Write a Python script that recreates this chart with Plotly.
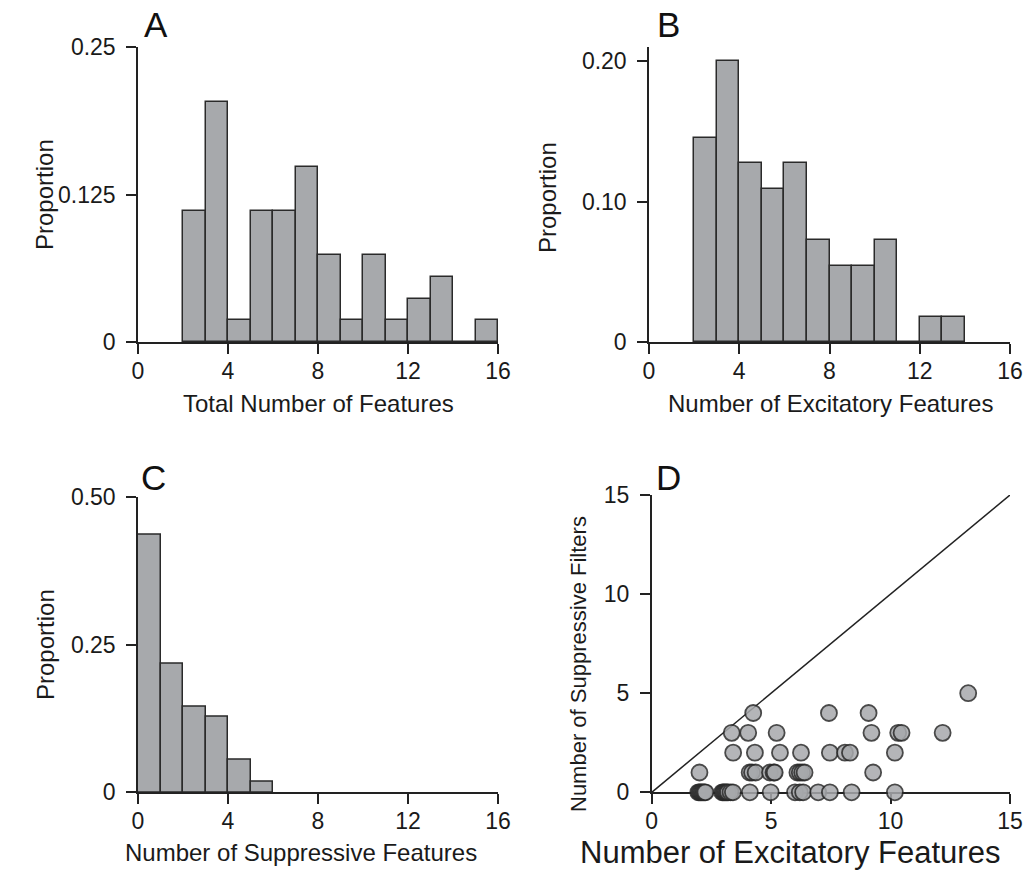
import plotly.graph_objects as go

# ---------------- data ----------------
bin_left_A = list(range(2, 16))
prop_A = [6/54, 11/54, 1/54, 6/54, 6/54, 8/54, 4/54, 1/54, 4/54, 1/54, 2/54, 3/54, 0, 1/54]

bin_left_B = list(range(2, 14))
prop_B = [8/55, 11/55, 7/55, 6/55, 7/55, 4/55, 3/55, 3/55, 4/55, 0, 1/55, 1/55]

bin_left_C = list(range(0, 6))
prop_C = [24/55, 12/55, 8/55, 7/55, 3/55, 1/55]

exc_D = [1.95, 2.0, 2.05, 2.1, 2.15, 2.2, 2.25,
         2.95, 3.0, 3.05, 3.1, 3.15, 3.2, 3.3, 3.4,
         4.11, 4.98, 6.0, 6.2, 6.34, 6.97, 7.46, 8.37, 10.18,
         2.0, 4.1, 4.2, 4.35, 4.95, 5.1, 5.15, 6.1, 6.2, 6.3, 6.4, 9.27,
         3.41, 4.32, 5.37, 6.25, 7.46, 8.09, 8.3, 10.18,
         3.35, 4.04, 5.23, 9.2, 10.32, 10.46, 12.18,
         4.25, 7.42, 9.08,
         13.25]
sup_D = [0]*24 + [1]*12 + [2]*8 + [3]*7 + [4]*3 + [5]

# ---------------- style ----------------
W, H = 1029, 871
FONT = "Liberation Sans, Arial, sans-serif"
BAR_FILL = "#a7a9ac"
EDGE = "#2a2a2a"

def fx(px):
    return px / W

def fy(py):
    return 1 - py / H

fig = go.Figure()

def add_hist(left, vals, xa, ya):
    fig.add_trace(go.Bar(
        x=[l + 0.5 for l in left], y=vals, width=1,
        marker=dict(color=BAR_FILL, line=dict(color=EDGE, width=1.5)),
        xaxis=xa, yaxis=ya, showlegend=False, hoverinfo="skip"))

add_hist(bin_left_A, prop_A, "x", "y")
add_hist(bin_left_B, prop_B, "x2", "y2")
add_hist(bin_left_C, prop_C, "x3", "y3")

fig.add_trace(go.Scatter(
    x=[0, 15], y=[0, 15], mode="lines",
    line=dict(color="#222", width=1.5),
    xaxis="x4", yaxis="y4", showlegend=False, hoverinfo="skip"))
fig.add_trace(go.Scatter(
    x=exc_D, y=sup_D, mode="markers", cliponaxis=False,
    marker=dict(size=16, color=BAR_FILL, opacity=0.85,
                line=dict(color=EDGE, width=1.8)),
    xaxis="x4", yaxis="y4", showlegend=False, hoverinfo="skip"))

tickfont = dict(family=FONT, size=23, color="#1a1a1a")

def axis(domain, anchor, rng, tickvals, ticktext=None, standoff=6):
    d = dict(domain=domain, anchor=anchor, range=rng, tickvals=tickvals,
             showgrid=False, zeroline=False, showline=True, automargin=False,
             linecolor="#222", linewidth=1.5, ticks="outside", ticklen=10,
             tickwidth=1.5, tickcolor="#222", tickfont=tickfont,
             ticklabelstandoff=standoff,
             fixedrange=True, layer="below traces")
    if ticktext is not None:
        d["ticktext"] = ticktext
    return d

xdomL = [fx(138), fx(498)]
xdomR = [fx(649), fx(1010)]
ydomT = [fy(342.3), fy(47)]
ydomB = [fy(792.3), fy(496.7)]

fig.update_layout(
    width=W, height=H,
    margin=dict(l=0, r=0, t=0, b=0, autoexpand=False),
    paper_bgcolor="white", plot_bgcolor="white",
    bargap=0,
    xaxis=axis(xdomL, "y", [0, 16], [0, 4, 8, 12, 16], standoff=-3),
    yaxis=axis(ydomT, "x", [0, 0.25], [0, 0.125, 0.25], ["0", "0.125", "0.25"]),
    xaxis2=axis(xdomR, "y2", [0, 16], [0, 4, 8, 12, 16], standoff=-3),
    yaxis2=axis(ydomT, "x2", [0, 0.21], [0, 0.10, 0.20], ["0", "0.10", "0.20"]),
    xaxis3=axis(xdomL, "y3", [0, 16], [0, 4, 8, 12, 16], standoff=-3),
    yaxis3=axis(ydomB, "x3", [0, 0.5], [0, 0.25, 0.5], ["0", "0.25", "0.50"]),
    xaxis4=axis([fx(651.7), fx(1010)], "y4", [0, 15], [0, 5, 10, 15], standoff=-3),
    yaxis4=axis([fy(792.3), fy(495)], "x4", [0, 15], [0, 5, 10, 15]),
)

titlefont = dict(family=FONT, size=24, color="#1a1a1a")
titlefontDx = dict(family=FONT, size=31, color="#1a1a1a")
titlefontDy = dict(family=FONT, size=22, color="#1a1a1a")
letterfont = dict(family=FONT, size=35, color="#111")

def ann(text, x, y, font, angle=0):
    fig.add_annotation(text=text, x=fx(x), y=fy(y), xref="paper", yref="paper",
                       showarrow=False, textangle=angle, font=font,
                       xanchor="center", yanchor="middle")

ann("Proportion", 45, 195, titlefont, -90)
ann("Total Number of Features", 318, 403, titlefont)
ann("Proportion", 547, 198, titlefont, -90)
ann("Number of Excitatory Features", 830, 403, titlefont)
ann("Proportion", 45, 645, titlefont, -90)
ann("Number of Suppressive Features", 301, 852, titlefont)
ann("Number of Suppressive Filters", 578, 664, titlefontDy, -90)
ann("Number of Excitatory Features", 790, 852, titlefontDx)

ann("A", 156, 25, letterfont)
ann("B", 668, 25, letterfont)
ann("C", 153, 477, letterfont)
ann("D", 668, 477, letterfont)

fig.write_html("out.html", config={"displayModeBar": False},
               post_script="document.body.style.margin='0';document.body.style.overflow='hidden';")
